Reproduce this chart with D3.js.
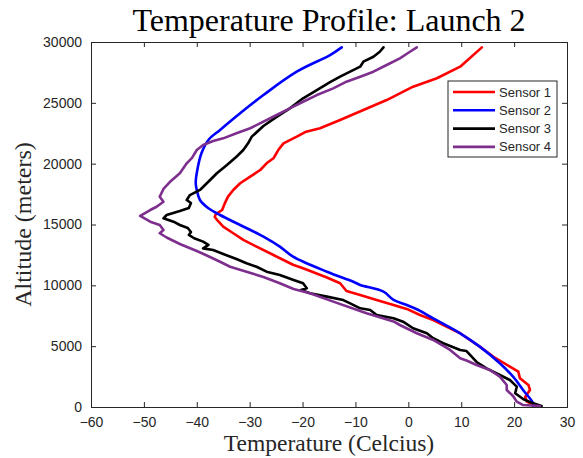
<!DOCTYPE html>
<html>
<head>
<meta charset="utf-8">
<script src="https://cdn.jsdelivr.net/npm/d3@7/dist/d3.min.js"></script>
<style>
  html, body { margin: 0; padding: 0; background: #fff; }
  svg { display: block; }
</style>
</head>
<body>
<svg id="chart" width="583" height="458"></svg>
<script>
// ---------- data ----------
const titleText = "Temperature Profile: Launch 2";
const xLabel = "Temperature (Celcius)";
const yLabel = "Altitude (meters)";
const seriesNames = ["Sensor 1", "Sensor 2", "Sensor 3", "Sensor 4"];
const seriesColors = ["#ff0000", "#0000ff", "#000000", "#7e2f8e"];
const xTicks = [-60, -50, -40, -30, -20, -10, 0, 10, 20, 30];
const yTicks = [0, 5000, 10000, 15000, 20000, 25000, 30000];

const sensor1Temp = [13.9, 9.8, 5.4, 0.9, -4.1, -8.5, -12.9, -16.7, -19.5, -21.1, -23.6, -24.6, -25.5, -26.8, -28.0, -29.9, -31.8, -33.1, -34.1, -34.7, -35.2, -36.4, -36.6, -36.0, -35.0, -33.1, -31.2, -28.7, -25.5, -21.7, -19.9, -15.4, -12.9, -11.7, -9.1, -6.0, -2.8, -0.3, 2.2, 4.7, 9.8, 13.5, 16.1, 19.2, 20.8, 21.1, 22.7, 23.0, 22.1, 22.4, 24.3];
const sensor1Alt = [29560, 27970, 27020, 26330, 25230, 24410, 23590, 22910, 22600, 22220, 21670, 21120, 20440, 20030, 19480, 18930, 18390, 17840, 17290, 16740, 16190, 15860, 15620, 15290, 14820, 14280, 13730, 13180, 12490, 11670, 11400, 10640, 10170, 9530, 9210, 8790, 8380, 8060, 7560, 7150, 6060, 4960, 4130, 3310, 2900, 2360, 1810, 1400, 850, 440, 80];

const sensor2Temp = [-12.6, -14.8, -21.1, -27.4, -31.8, -35.6, -37.8, -39.1, -39.9, -40.2, -40.0, -39.4, -37.8, -35.6, -31.8, -27.4, -24.3, -21.8, -15.4, -10.4, -9.1, -4.7, -2.8, -0.3, 1.9, 4.7, 9.8, 13.5, 17.3, 19.8, 21.7, 23.6, 23.6];
const sensor2Alt = [29560, 28930, 27560, 25640, 24140, 22770, 21950, 20870, 19480, 18410, 17840, 17010, 16330, 15780, 14960, 14000, 13180, 12360, 11120, 10300, 10030, 9480, 8800, 8390, 7970, 7290, 6060, 4960, 3590, 2490, 1400, 310, 80];

const sensor3Temp = [-4.7, -5.4, -6.6, -8.5, -9.1, -11.0, -12.9, -14.8, -17.3, -19.9, -22.4, -24.9, -27.4, -29.6, -30.3, -31.2, -32.5, -34.3, -36.2, -38.1, -39.4, -41.3, -41.9, -41.1, -41.5, -43.2, -45.7, -46.3, -44.4, -43.2, -41.7, -41.1, -41.5, -40.5, -38.8, -37.8, -38.8, -36.9, -35.0, -32.5, -30.6, -28.7, -26.8, -24.3, -21.7, -19.9, -19.2, -20.3, -18.6, -15.4, -12.3, -11.0, -9.1, -7.2, -6.0, -2.8, -1.0, 0.9, 3.5, 4.7, 6.6, 9.8, 11.0, 12.9, 14.8, 17.3, 19.2, 20.5, 20.2, 21.7, 23.6, 25.2];
const sensor3Alt = [29560, 29200, 28790, 28380, 27970, 27560, 27150, 26710, 26050, 25370, 24550, 23840, 23100, 22220, 21670, 21120, 20570, 19890, 19210, 18390, 17840, 17420, 17010, 16770, 16360, 16110, 15780, 15510, 15230, 14960, 14710, 14380, 14140, 13870, 13590, 13320, 13040, 12900, 12580, 12160, 11810, 11530, 11120, 10850, 10440, 10170, 9760, 9620, 9350, 9070, 8790, 8520, 8110, 7970, 7560, 7290, 7010, 6470, 6060, 5650, 5240, 4690, 4600, 3700, 3180, 2630, 2220, 1670, 1130, 660, 300, 80];

const sensor4Temp = [1.6, 0.3, -1.6, -4.1, -6.6, -9.1, -11.7, -14.2, -17.3, -19.9, -22.4, -24.9, -27.4, -29.9, -32.5, -35.0, -36.9, -38.8, -40.0, -40.9, -41.9, -43.2, -45.1, -46.3, -47.0, -46.3, -47.6, -48.8, -50.7, -48.8, -47.0, -46.3, -47.0, -45.7, -43.2, -40.0, -38.1, -35.6, -33.7, -30.6, -27.4, -24.3, -21.7, -18.6, -14.2, -7.9, -2.8, -1.6, 1.6, 4.7, 7.9, 9.8, 11.0, 12.9, 15.4, 17.3, 18.6, 18.6, 19.8, 20.5, 21.7, 24.9];
const sensor4Alt = [29560, 29200, 28660, 28110, 27560, 27150, 26740, 26190, 25640, 25090, 24550, 24000, 23450, 22910, 22500, 22080, 21860, 21530, 21120, 20470, 20030, 19210, 18490, 17920, 17290, 16870, 16460, 16190, 15700, 15230, 14960, 14550, 14280, 13930, 13400, 12820, 12450, 11940, 11530, 11120, 10690, 10170, 9700, 9350, 8660, 7700, 7030, 6740, 6060, 5510, 4690, 4000, 3820, 3450, 3040, 2490, 1810, 1400, 900, 440, 160, 80];

const sensorTemps = [sensor1Temp, sensor2Temp, sensor3Temp, sensor4Temp];
const sensorAlts = [sensor1Alt, sensor2Alt, sensor3Alt, sensor4Alt];

// ---------- layout ----------
const margin = { left: 91, top: 42, right: 16, bottom: 51 };
const W = 583, H = 458;
const pw = W - margin.left - margin.right;   // 476
const ph = H - margin.top - margin.bottom;   // 365
const axisColor = "#262626";

const svg = d3.select("#chart");
const x = d3.scaleLinear().domain([-60, 30]).range([0, pw]);
const y = d3.scaleLinear().domain([0, 30000]).range([ph, 0]);

const g = svg.append("g").attr("transform", `translate(${margin.left},${margin.top})`);

g.append("rect").attr("width", pw).attr("height", ph).attr("fill", "#fff");

// lines (sensor 2 is a smooth trace, the others are jagged)
sensorTemps.forEach((temps, i) => {
  const pts = temps.map((t, j) => [t, sensorAlts[i][j]]);
  const line = d3.line().x(d => x(d[0])).y(d => y(d[1]))
    .curve(i === 1 ? d3.curveCatmullRom.alpha(0.5) : d3.curveLinear);
  g.append("path")
    .datum(pts)
    .attr("d", line)
    .attr("fill", "none")
    .attr("stroke", seriesColors[i])
    .attr("stroke-width", 2.6)
    .attr("stroke-linejoin", "round")
    .attr("stroke-linecap", "round");
});

// axes (ticks inward, box)
const tickLen = 5;
const fontTick = "'Liberation Sans', Arial, sans-serif";
const xAxisB = d3.axisBottom(x).tickValues(xTicks).tickSize(-tickLen).tickPadding(10).tickFormat(d3.format("d"));
const xAxisT = d3.axisTop(x).tickValues(xTicks).tickSize(-tickLen).tickFormat("");
const yAxisL = d3.axisLeft(y).tickValues(yTicks).tickSize(-tickLen).tickPadding(9).tickFormat(d3.format("d"));
const yAxisR = d3.axisRight(y).tickValues(yTicks).tickSize(-tickLen).tickFormat("");

function styleAxis(sel) {
  sel.selectAll("path.domain").attr("stroke", axisColor).attr("stroke-width", 1);
  sel.selectAll(".tick line").attr("stroke", axisColor).attr("stroke-width", 1);
  sel.selectAll(".tick text").attr("fill", axisColor).attr("font-family", fontTick).attr("font-size", 14);
}
g.append("g").attr("transform", `translate(0,${ph})`).call(xAxisB).call(styleAxis);
g.append("g").call(xAxisT).call(styleAxis);
g.append("g").call(yAxisL).call(styleAxis);
g.append("g").attr("transform", `translate(${pw},0)`).call(yAxisR).call(styleAxis);

// labels
const serif = "'Liberation Serif', 'Times New Roman', serif";
svg.append("text")
  .attr("x", margin.left + pw / 2).attr("y", 31)
  .attr("text-anchor", "middle")
  .attr("font-family", serif).attr("font-size", 32).attr("fill", "#000")
  .text(titleText);
svg.append("text")
  .attr("x", margin.left + pw / 2).attr("y", 451)
  .attr("text-anchor", "middle")
  .attr("font-family", serif).attr("font-size", 23.5).attr("fill", axisColor)
  .text(xLabel);
svg.append("text")
  .attr("transform", `translate(31,${margin.top + ph / 2}) rotate(-90)`)
  .attr("text-anchor", "middle")
  .attr("font-family", serif).attr("font-size", 24).attr("fill", axisColor)
  .text(yLabel);

// legend
const lg = svg.append("g").attr("transform", "translate(448,81)");
lg.append("rect").attr("width", 109).attr("height", 76)
  .attr("fill", "#fff").attr("stroke", axisColor).attr("stroke-width", 1);
seriesNames.forEach((name, i) => {
  const yy = 11 + i * 18.3;
  lg.append("line").attr("x1", 5).attr("x2", 47).attr("y1", yy).attr("y2", yy)
    .attr("stroke", seriesColors[i]).attr("stroke-width", 2.6);
  lg.append("text").attr("x", 51).attr("y", yy).attr("dy", "0.35em")
    .attr("font-family", fontTick).attr("font-size", 13).attr("fill", axisColor)
    .text(name);
});
</script>
</body>
</html>
